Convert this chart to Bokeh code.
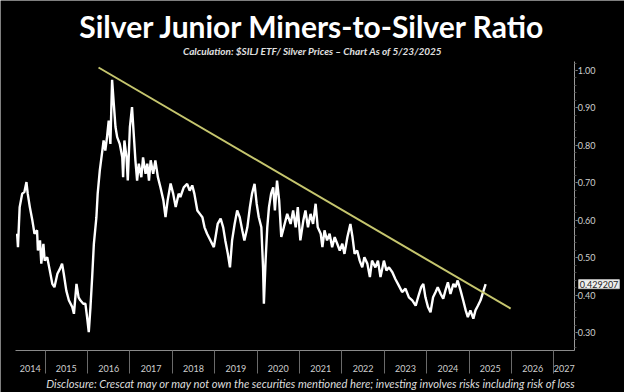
from bokeh.plotting import figure
from bokeh.models import FixedTicker, NumeralTickFormatter, Label, Range1d, ColumnDataSource
from bokeh.embed import file_html
from bokeh.resources import INLINE

# ---- data ----
dates = [
    2014.34, 2014.36, 2014.40, 2014.46, 2014.51, 2014.56, 2014.59, 2014.64, 2014.70, 2014.75,
    2014.81, 2014.83, 2014.88, 2014.91, 2014.96, 2014.99, 2015.05, 2015.11, 2015.17, 2015.22,
    2015.29, 2015.35, 2015.40, 2015.44, 2015.50, 2015.56, 2015.64, 2015.68, 2015.74, 2015.79,
    2015.83, 2015.90, 2015.95, 2015.99, 2016.03, 2016.07, 2016.11, 2016.15, 2016.21, 2016.24,
    2016.29, 2016.35, 2016.38, 2016.42, 2016.46, 2016.50, 2016.54, 2016.58, 2016.62, 2016.66,
    2016.70, 2016.76, 2016.82, 2016.84, 2016.87, 2016.92, 2016.95, 2017.00, 2017.05, 2017.09,
    2017.13, 2017.17, 2017.21, 2017.27, 2017.31, 2017.37, 2017.41, 2017.45, 2017.49, 2017.55,
    2017.60, 2017.66, 2017.72, 2017.79, 2017.84, 2017.89, 2017.96, 2018.02, 2018.08, 2018.15,
    2018.19, 2018.27, 2018.35, 2018.41, 2018.47, 2018.52, 2018.59, 2018.65, 2018.71, 2018.76,
    2018.82, 2018.90, 2018.98, 2019.02, 2019.07, 2019.14, 2019.20, 2019.25, 2019.31, 2019.36,
    2019.41, 2019.47, 2019.53, 2019.59, 2019.65, 2019.70, 2019.77, 2019.83, 2019.88, 2019.94,
    2019.99, 2020.04, 2020.10, 2020.14, 2020.16, 2020.20, 2020.24, 2020.28, 2020.33, 2020.38,
    2020.42, 2020.47, 2020.52, 2020.57, 2020.63, 2020.71, 2020.79, 2020.85, 2020.91, 2020.96,
    2021.02, 2021.09, 2021.14, 2021.20, 2021.26, 2021.32, 2021.38, 2021.43, 2021.50, 2021.54,
    2021.59, 2021.65, 2021.71, 2021.77, 2021.83, 2021.89, 2021.95, 2022.01, 2022.06, 2022.13,
    2022.20, 2022.25, 2022.30, 2022.36, 2022.42, 2022.48, 2022.53, 2022.60, 2022.66, 2022.71,
    2022.79, 2022.85, 2022.91, 2022.99, 2023.05, 2023.11, 2023.19, 2023.26, 2023.34, 2023.42,
    2023.50, 2023.58, 2023.66, 2023.74, 2023.81, 2023.87, 2023.92, 2023.97, 2024.03, 2024.09,
    2024.15, 2024.21, 2024.26, 2024.33, 2024.39, 2024.44, 2024.50, 2024.56, 2024.63, 2024.68,
    2024.73, 2024.80, 2024.86, 2024.92, 2024.97, 2025.03, 2025.10, 2025.15, 2025.21, 2025.27,
    2025.33, 2025.39,
]
ratio = [
    0.564, 0.528, 0.635, 0.671, 0.675, 0.702, 0.671, 0.635, 0.599, 0.564,
    0.573, 0.519, 0.546, 0.484, 0.537, 0.492, 0.501, 0.466, 0.430, 0.421,
    0.457, 0.470, 0.484, 0.457, 0.412, 0.386, 0.368, 0.350, 0.430, 0.394,
    0.386, 0.377, 0.377, 0.341, 0.301, 0.368, 0.448, 0.537, 0.608, 0.671,
    0.733, 0.786, 0.813, 0.786, 0.822, 0.866, 0.804, 0.975, 0.911, 0.849,
    0.822, 0.804, 0.768, 0.715, 0.813, 0.768, 0.706, 0.849, 0.902, 0.831,
    0.760, 0.706, 0.751, 0.715, 0.768, 0.724, 0.751, 0.706, 0.760, 0.724,
    0.760, 0.715, 0.688, 0.653, 0.608, 0.653, 0.698, 0.671, 0.635, 0.671,
    0.662, 0.688, 0.697, 0.679, 0.693, 0.671, 0.626, 0.617, 0.608, 0.581,
    0.564, 0.546, 0.528, 0.555, 0.590, 0.604, 0.581, 0.546, 0.510, 0.474,
    0.546, 0.590, 0.626, 0.608, 0.573, 0.546, 0.581, 0.635, 0.671, 0.697,
    0.644, 0.608, 0.581, 0.474, 0.377, 0.492, 0.581, 0.635, 0.671, 0.688,
    0.626, 0.706, 0.653, 0.555, 0.581, 0.617, 0.590, 0.626, 0.581, 0.635,
    0.546, 0.599, 0.626, 0.581, 0.617, 0.590, 0.644, 0.581, 0.564, 0.528,
    0.573, 0.546, 0.564, 0.528, 0.555, 0.537, 0.519, 0.537, 0.510, 0.555,
    0.590, 0.555, 0.510, 0.519, 0.492, 0.474, 0.501, 0.484, 0.448, 0.492,
    0.474, 0.492, 0.448, 0.492, 0.466, 0.474, 0.461, 0.443, 0.426, 0.408,
    0.417, 0.394, 0.386, 0.372, 0.399, 0.421, 0.430, 0.394, 0.368, 0.354,
    0.394, 0.408, 0.421, 0.403, 0.390, 0.412, 0.434, 0.403, 0.430, 0.421,
    0.439, 0.412, 0.386, 0.359, 0.341, 0.359, 0.337, 0.359, 0.372, 0.386,
    0.408, 0.429207,
]
trend_x = [2016.26, 2025.98]
trend_y = [1.008, 0.364]

year_labels = ["2014", "2015", "2016", "2017", "2018", "2019", "2020",
               "2021", "2022", "2023", "2024", "2025", "2026", "2027"]
year_label_pos = [2014.65, 2015.5, 2016.5, 2017.5, 2018.5, 2019.5, 2020.5,
                  2021.5, 2022.5, 2023.5, 2024.5, 2025.5, 2026.5, 2027.245]
year_bounds = [2015, 2016, 2017, 2018, 2019, 2020, 2021, 2022, 2023, 2024, 2025, 2026, 2027]
y_ticks = [0.3, 0.4, 0.5, 0.6, 0.7, 0.8, 0.9, 1.0]
last_value = "0.429207"

title_text = "Silver Junior Miners-to-Silver Ratio"
subtitle_text = "Calculation: $SILJ ETF/ Silver Prices \u2013 Chart As of 5/23/2025"
disclosure_text = ("Disclosure: Crescat may or may not own the securities mentioned here; "
                   "investing involves risks including risk of loss")

# axis extents (data units) and the full-canvas view window
AX_X0, AX_X1 = 2014.30, 2027.49
AX_Y0, AX_Y1 = 0.252, 1.024
VIEW_X0, VIEW_X1 = 2013.948, 2028.665
VIEW_Y0, VIEW_Y1 = 0.1397, 1.187

p = figure(width=624, height=392, output_backend="svg", toolbar_location=None,
           x_range=Range1d(VIEW_X0, VIEW_X1), y_range=Range1d(VIEW_Y0, VIEW_Y1),
           y_axis_location="right", min_border=0)
p.background_fill_color = "black"
p.border_fill_color = "black"
p.outline_line_color = None
p.grid.visible = False

src = ColumnDataSource(dict(x=dates, y=ratio))
p.line("x", "y", source=src, line_color="white", line_width=2.4)
p.line(trend_x, trend_y, line_color="#c6c66e", line_width=2)

# x axis
xa = p.xaxis[0]
xa.fixed_location = AX_Y0
xa.bounds = (AX_X0, AX_X1)
xa.ticker = FixedTicker(ticks=year_label_pos, minor_ticks=year_bounds)
xa.major_label_overrides = {v: s for v, s in zip(year_label_pos, year_labels)}
xa.major_tick_out = 0
xa.major_tick_in = 0
xa.minor_tick_out = 23
xa.minor_tick_in = 0
xa.minor_tick_line_color = "#6a6a6a"
xa.axis_line_color = "#8a8a8a"
xa.major_label_standoff = -8
xa.major_label_text_color = "#cfcfcf"
xa.major_label_text_font = "Lato"
xa.major_label_text_font_size = "9px"

# y axis (right)
ya = p.yaxis[0]
ya.fixed_location = AX_X1
ya.bounds = (AX_Y0, AX_Y1)
ya.ticker = FixedTicker(ticks=y_ticks, minor_ticks=[0.26 + 0.02 * i for i in range(39)])
ya.formatter = NumeralTickFormatter(format="0.00")
ya.axis_line_color = "#9a9a9a"
ya.major_tick_out = 3
ya.major_tick_in = 0
ya.major_tick_line_color = "#bbbbbb"
ya.minor_tick_out = 2
ya.minor_tick_in = 0
ya.minor_tick_line_color = "#444444"
ya.major_label_standoff = 0
ya.major_label_text_color = "#cfcfcf"
ya.major_label_text_font = "Lato"
ya.major_label_text_font_size = "9px"

# last value tag
p.add_layout(Label(x=AX_X1, y=ratio[-1], text=last_value, x_offset=4, text_baseline="middle",
                   text_font="Lato", text_font_size="9px", text_color="#222222",
                   background_fill_color="#eeeeee", border_line_color="#bbbbbb",
                   padding=1))

# titles
p.add_layout(Label(x=2021.31, y=1.120, text=title_text, text_align="center", text_baseline="middle",
                   text_font="Lato", text_font_style="bold", text_font_size="30px",
                   text_color="white"))
p.add_layout(Label(x=2021.31, y=1.053, text=subtitle_text, text_align="center", text_baseline="middle",
                   text_font="Lato", text_font_style="bold italic", text_font_size="10px",
                   text_color="#e0e0e0"))
p.add_layout(Label(x=2021.27, y=0.164, text=disclosure_text, text_align="center",
                   text_baseline="middle", text_font="Lato", text_font_style="italic",
                   text_font_size="11.2px", text_color="#dddddd"))

open("out.html", "w").write(file_html(p, INLINE))
